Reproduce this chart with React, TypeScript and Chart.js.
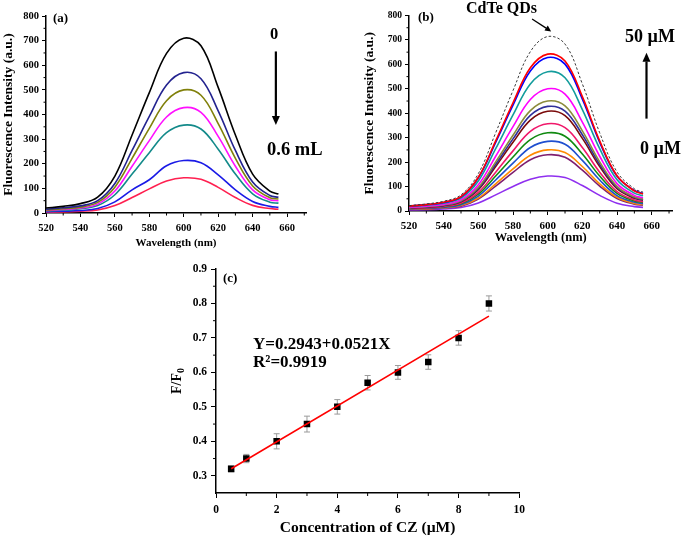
import React, { useEffect, useRef } from "react";
import { Chart, registerables } from "chart.js";

Chart.register(...registerables);

const FONT = "'Liberation Serif', 'Times New Roman', Times, serif";

// ---------- Panel (a) data ----------
const WAVELENGTH = [520, 530, 540, 550, 560, 570, 580, 590, 600, 610, 620, 630, 640, 650, 655];
const A_VOL_0 = [20, 27, 38, 64, 150, 317, 489, 648, 710, 679, 510, 317, 158, 89, 77];
const A_VOL_1 = [15, 21, 29, 50, 120, 254, 392, 520, 570, 545, 415, 254, 126, 71, 64];
const A_VOL_2 = [12, 17, 24, 43, 105, 222, 344, 456, 500, 478, 363, 222, 110, 62, 57];
const A_VOL_3 = [10, 14, 20, 36, 89, 190, 294, 390, 428, 409, 311, 190, 94, 54, 50];
const A_VOL_4 = [8, 11, 17, 30, 74, 158, 245, 326, 357, 341, 259, 158, 78, 44, 40];
const A_VOL_5 = [5, 7, 10, 18, 45, 94, 135, 192, 213, 204, 155, 94, 47, 27, 23];
const A_VOL_6 = [3, 4, 7, 12, 30, 63, 98, 130, 143, 137, 104, 63, 31, 18, 15];
const A_SERIES = [A_VOL_0, A_VOL_1, A_VOL_2, A_VOL_3, A_VOL_4, A_VOL_5, A_VOL_6];
const A_COLORS = ["#000000", "#23238f", "#80800a", "#ff10ff", "#138a8a", "#1a1ae6", "#ff2050"];
const SPEC_X_TICKS = [520, 540, 560, 580, 600, 620, 640, 660];
const SPEC_X_MINOR = [530, 550, 570, 590, 610, 630, 650, 670];
const SPEC_Y_TICKS = [0, 100, 200, 300, 400, 500, 600, 700, 800];
const SPEC_Y_MINOR = [50, 150, 250, 350, 450, 550, 650, 750];

// ---------- Panel (b) data ----------
const B_CDTE = [22, 29, 40, 66, 153, 320, 493, 652, 714, 683, 520, 320, 160, 91, 77];
const B_CZ_50 = [20, 26, 36, 59, 138, 287, 443, 586, 642, 614, 468, 287, 144, 82, 70];
const B_CZ_45 = [20, 26, 35, 58, 136, 281, 433, 573, 628, 601, 458, 281, 142, 84, 72];
const B_CZ_40 = [18, 24, 32, 53, 123, 255, 393, 520, 570, 545, 415, 255, 128, 73, 62];
const B_CZ_35 = [15, 20, 27, 46, 107, 224, 345, 456, 500, 478, 364, 224, 112, 64, 54];
const B_CZ_30 = [14, 18, 25, 42, 97, 201, 310, 411, 450, 430, 328, 201, 101, 58, 49];
const B_CZ_25 = [13, 17, 23, 40, 92, 191, 295, 391, 428, 409, 312, 191, 96, 55, 46];
const B_CZ_20 = [12, 16, 22, 38, 87, 182, 281, 372, 408, 390, 297, 182, 91, 52, 44];
const B_CZ_15 = [10, 13, 19, 33, 76, 159, 246, 326, 357, 341, 260, 159, 79, 45, 38];
const B_CZ_10 = [10, 13, 18, 30, 69, 143, 221, 292, 320, 306, 233, 143, 72, 41, 35];
const B_CZ_5 = [8, 11, 15, 26, 61, 127, 196, 260, 285, 273, 207, 127, 63, 36, 30];
const B_CZ_2 = [7, 9, 13, 23, 53, 111, 172, 228, 250, 239, 182, 111, 56, 31, 26];
const B_CZ_1 = [6, 8, 12, 20, 49, 102, 158, 210, 230, 220, 167, 102, 51, 28, 24];
const B_CZ_0 = [4, 5, 8, 14, 33, 66, 100, 130, 143, 137, 104, 64, 32, 18, 15];
const B_SERIES = [B_CDTE, B_CZ_50, B_CZ_45, B_CZ_40, B_CZ_35, B_CZ_30, B_CZ_25, B_CZ_20, B_CZ_15, B_CZ_10, B_CZ_5, B_CZ_2, B_CZ_1, B_CZ_0];
const B_COLORS = ["#3a3a3a", "#ff0000", "#0000ff", "#139c9c", "#ff00ff", "#8c8c3c", "#30309a", "#7a0a0a", "#f0186a", "#108a10", "#1f4fcf", "#ff8a00", "#7f1f6f", "#8f2fef"];

// ---------- Panel (c) data ----------
const C_CONC = [0.5, 1, 2, 3, 4, 5, 6, 7, 8, 9];
const C_RATIO = [0.32, 0.35, 0.40, 0.45, 0.50, 0.57, 0.60, 0.63, 0.70, 0.80];
const C_ERR = [0.008, 0.012, 0.022, 0.023, 0.021, 0.021, 0.02, 0.021, 0.021, 0.022];
const C_FIT_X = [0.5, 9];
const C_FIT_Y = [0.3204, 0.7632];
const C_X_TICKS = [0, 2, 4, 6, 8, 10];
const C_X_MINOR = [1, 3, 5, 7, 9];
const C_Y_TICKS = [0.3, 0.4, 0.5, 0.6, 0.7, 0.8, 0.9];
const C_Y_MINOR = [0.35, 0.45, 0.55, 0.65, 0.75, 0.85];

// ---------- plugins ----------
const minorTicksPlugin = {
  id: "minorTicks",
  afterDatasetsDraw(chart: any, _a: any, o: any) {
    const { ctx, scales } = chart;
    const xs = scales.x;
    const ys = scales.y;
    ctx.save();
    ctx.strokeStyle = "#000";
    ctx.lineWidth = 1;
    for (const v of o.x || []) {
      const p = xs.getPixelForValue(v);
      ctx.beginPath();
      ctx.moveTo(p, xs.top);
      ctx.lineTo(p, xs.top + o.len);
      ctx.stroke();
    }
    for (const v of o.y || []) {
      const p = ys.getPixelForValue(v);
      ctx.beginPath();
      ctx.moveTo(ys.right, p);
      ctx.lineTo(ys.right - o.len, p);
      ctx.stroke();
    }
    ctx.restore();
  },
};

const arrowsPlugin = {
  id: "arrows",
  afterDraw(chart: any, _a: any, o: any) {
    const { ctx, scales } = chart;
    const xs = scales.x;
    const ys = scales.y;
    for (const a of o.list || []) {
      const x1 = xs.getPixelForValue(a.from[0]);
      const y1 = ys.getPixelForValue(a.from[1]);
      const x2 = xs.getPixelForValue(a.to[0]);
      const y2 = ys.getPixelForValue(a.to[1]);
      const ang = Math.atan2(y2 - y1, x2 - x1);
      const hl = a.head;
      const hw = a.headW;
      const bx = x2 - hl * Math.cos(ang);
      const by = y2 - hl * Math.sin(ang);
      ctx.save();
      ctx.strokeStyle = "#000";
      ctx.fillStyle = "#000";
      ctx.lineWidth = a.width;
      ctx.beginPath();
      ctx.moveTo(x1, y1);
      ctx.lineTo(bx, by);
      ctx.stroke();
      ctx.beginPath();
      ctx.moveTo(x2, y2);
      ctx.lineTo(bx + hw * Math.sin(ang), by - hw * Math.cos(ang));
      ctx.lineTo(bx - hw * Math.sin(ang), by + hw * Math.cos(ang));
      ctx.closePath();
      ctx.fill();
      ctx.restore();
    }
  },
};

const errorBarsPlugin = {
  id: "errorBars",
  beforeDatasetsDraw(chart: any, _a: any, o: any) {
    if (!o.x) return;
    const { ctx, scales } = chart;
    const xs = scales.x;
    const ys = scales.y;
    ctx.save();
    ctx.strokeStyle = "#9a9a9a";
    ctx.lineWidth = 1;
    o.x.forEach((xv: number, i: number) => {
      const px = xs.getPixelForValue(xv);
      const pt = ys.getPixelForValue(o.y[i] + o.err[i]);
      const pb = ys.getPixelForValue(o.y[i] - o.err[i]);
      ctx.beginPath();
      ctx.moveTo(px, pt);
      ctx.lineTo(px, pb);
      ctx.moveTo(px - 3, pt);
      ctx.lineTo(px + 3, pt);
      ctx.moveTo(px - 3, pb);
      ctx.lineTo(px + 3, pb);
      ctx.stroke();
    });
    ctx.restore();
  },
};

// ---------- config helpers ----------
function axis(o: any) {
  return {
    type: "linear",
    min: o.min,
    max: o.max,
    afterBuildTicks: (s: any) => {
      s.ticks = o.ticks.map((v: number) => ({ value: v }));
    },
    afterFit: (s: any) => {
      if (o.width !== undefined) s.width = o.width;
      if (o.height !== undefined) s.height = o.height;
    },
    ticks: {
      autoSkip: false,
      maxRotation: 0,
      color: "#000",
      padding: o.tickPad,
      font: { family: FONT, size: o.tickSize, weight: "bold" },
      callback: o.fmt || ((v: number) => String(v)),
    },
    grid: { drawOnChartArea: false, drawTicks: true, tickLength: o.tickLen, color: "#000", lineWidth: 1 },
    border: { display: true, color: "#000", width: 1.5 },
    title: {
      display: !!o.title,
      text: o.title || "",
      color: "#000",
      padding: 0,
      font: { family: FONT, size: o.titleSize, weight: "bold" },
    },
  };
}

function spectrumConfig(series: number[][], colors: string[], p: any, dashedFirst: boolean) {
  return {
    type: "line",
    data: {
      datasets: series.map((arr, i) => ({
        data: WAVELENGTH.map((w, j) => ({ x: w, y: arr[j] })),
        borderColor: colors[i],
        borderWidth: dashedFirst && i === 0 ? 1 : 1.6,
        borderDash: dashedFirst && i === 0 ? [2.5, 2] : [],
        pointRadius: 0,
        fill: false,
        tension: 0.38,
      })),
    },
    options: {
      responsive: false,
      animation: false,
      events: [],
      layout: { padding: p.padding },
      plugins: {
        legend: { display: false },
        tooltip: { enabled: false },
        minorTicks: { x: SPEC_X_MINOR, y: SPEC_Y_MINOR, len: 2.5 },
        arrows: { list: p.arrows },
      },
      scales: {
        x: axis({
          min: 520, max: p.xMax, ticks: SPEC_X_TICKS, height: p.xH, tickPad: p.xTickPad, tickLen: 4,
          tickSize: p.xTickSize, title: "Wavelength (nm)", titleSize: p.xTitleSize,
        }),
        y: axis({
          min: 0, max: 800, ticks: SPEC_Y_TICKS, width: p.yW, tickPad: 3, tickLen: 4,
          tickSize: p.yTickSize, title: "Fluorescence Intensity (a.u.)", titleSize: 13.5,
        }),
      },
    },
    plugins: [minorTicksPlugin, arrowsPlugin],
  };
}

function ratioConfig() {
  return {
    type: "scatter",
    data: {
      datasets: [
        {
          type: "line",
          data: C_FIT_X.map((x, i) => ({ x, y: C_FIT_Y[i] })),
          borderColor: "#ff0000",
          borderWidth: 1.6,
          pointRadius: 0,
          fill: false,
        },
        {
          data: C_CONC.map((x, i) => ({ x, y: C_RATIO[i] })),
          pointStyle: "rect",
          pointRadius: 4.6,
          backgroundColor: "#000",
          borderColor: "#000",
          borderWidth: 0,
          showLine: false,
        },
      ],
    },
    options: {
      responsive: false,
      animation: false,
      events: [],
      layout: { padding: { left: 0, top: 14, right: 10, bottom: 2 } },
      plugins: {
        legend: { display: false },
        tooltip: { enabled: false },
        minorTicks: { x: C_X_MINOR, y: C_Y_MINOR, len: 3 },
        errorBars: { x: C_CONC, y: C_RATIO, err: C_ERR },
      },
      scales: {
        x: axis({
          min: 0, max: 10, ticks: C_X_TICKS, height: 44, tickPad: 5, tickLen: 5,
          tickSize: 11.5, title: "Concentration of CZ (\u00b5M)", titleSize: 15.5,
        }),
        y: axis({
          min: 0.25, max: 0.9, ticks: C_Y_TICKS, width: 66, tickPad: 4, tickLen: 5,
          tickSize: 11.5, fmt: (v: number) => v.toFixed(1),
        }),
      },
    },
    plugins: [minorTicksPlugin, errorBarsPlugin],
  };
}

const textBase: React.CSSProperties = {
  position: "absolute",
  fontFamily: FONT,
  fontWeight: "bold",
  lineHeight: 1,
  whiteSpace: "nowrap",
  color: "#000",
};

function Label(props: { x: number; cy: number; size: number; children: React.ReactNode }) {
  return (
    <div style={{ ...textBase, left: props.x, top: props.cy - props.size / 2, fontSize: props.size }}>
      {props.children}
    </div>
  );
}

export default function App() {
  const refA = useRef<HTMLCanvasElement>(null);
  const refB = useRef<HTMLCanvasElement>(null);
  const refC = useRef<HTMLCanvasElement>(null);

  useEffect(() => {
    const charts: Chart[] = [];
    if (refA.current) {
      charts.push(
        new Chart(
          refA.current,
          spectrumConfig(A_SERIES, A_COLORS, {
            padding: { left: 0, top: 16, right: 34, bottom: 10 },
            xMax: 671, xH: 37, yW: 46, xTickPad: 5, xTickSize: 10.5, yTickSize: 10.5, xTitleSize: 11,
            arrows: [{ from: [653.5, 656], to: [653.5, 357], width: 2.2, head: 9, headW: 4 }],
          }, false) as any
        )
      );
    }
    if (refB.current) {
      charts.push(
        new Chart(
          refB.current,
          spectrumConfig(B_SERIES, B_COLORS, {
            padding: { left: 21, top: 15.5, right: 12.5, bottom: 14.5 },
            xMax: 672, xH: 34.5, yW: 48, xTickPad: 5, xTickSize: 11, yTickSize: 9.5, xTitleSize: 12.5,
            arrows: [
              { from: [657, 378], to: [657, 648], width: 2.2, head: 9, headW: 4 },
              { from: [591, 786], to: [602, 735], width: 1.3, head: 6, headW: 3 },
            ],
          }, true) as any
        )
      );
    }
    if (refC.current) {
      charts.push(new Chart(refC.current, ratioConfig() as any));
    }
    return () => charts.forEach((c) => c.destroy());
  }, []);

  return (
    <div style={{ position: "fixed", left: 0, top: 0, width: 685, height: 539, background: "#fff", overflow: "hidden" }}>
      <canvas ref={refA} width={340} height={260} style={{ position: "absolute", left: 0, top: 0 }} />
      <canvas ref={refB} width={345} height={260} style={{ position: "absolute", left: 340, top: 0 }} />
      <canvas ref={refC} width={380} height={284} style={{ position: "absolute", left: 150, top: 255 }} />

      <Label x={53} cy={17} size={13}>(a)</Label>
      <Label x={270} cy={34} size={16.5}>0</Label>
      <Label x={267} cy={149} size={18.5}>0.6 mL</Label>

      <Label x={418} cy={16} size={13}>(b)</Label>
      <Label x={466} cy={8} size={16}>CdTe QDs</Label>
      <Label x={625} cy={36} size={18}>50 {"\u00b5"}M</Label>
      <Label x={640} cy={148} size={18}>0 {"\u00b5"}M</Label>

      <Label x={223} cy={277} size={13}>(c)</Label>
      <Label x={253} cy={343} size={17}>Y=0.2943+0.0521X</Label>
      <Label x={253} cy={361} size={17}>R{"\u00b2"}=0.9919</Label>

      <div
        style={{
          ...textBase,
          left: 177,
          top: 381,
          fontSize: 14,
          transform: "translate(-50%, -50%) rotate(-90deg)",
        }}
      >
        F/F<sub style={{ fontSize: 10, verticalAlign: "-3px", lineHeight: 0 }}>0</sub>
      </div>
    </div>
  );
}
